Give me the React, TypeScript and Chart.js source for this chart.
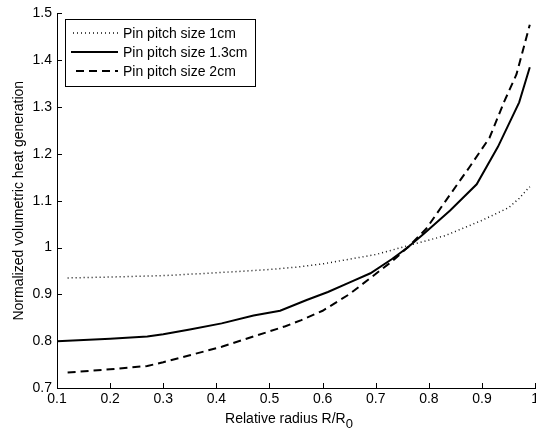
import React, { useEffect, useRef } from "react";
import { Chart, registerables } from "chart.js";

Chart.register(...registerables);

const xPitch1 = [0.12, 0.2, 0.3, 0.4, 0.5, 0.55, 0.6, 0.7, 0.78, 0.83, 0.9, 0.95, 0.97, 0.99];
const yPitch1 = [0.935, 0.937, 0.94, 0.946, 0.953, 0.958, 0.965, 0.985, 1.01, 1.025, 1.058, 1.085, 1.105, 1.13];

const xPitch13 = [0.1, 0.2, 0.27, 0.3, 0.35, 0.41, 0.47, 0.52, 0.57, 0.61, 0.65, 0.69, 0.73, 0.76, 0.79, 0.84, 0.89, 0.93, 0.97, 0.99];
const yPitch13 = [0.8, 0.805, 0.81, 0.815, 0.825, 0.838, 0.855, 0.865, 0.888, 0.905, 0.925, 0.945, 0.975, 1.0, 1.029, 1.079, 1.135, 1.215, 1.31, 1.385];

const xPitch2 = [0.12, 0.2, 0.27, 0.3, 0.35, 0.41, 0.47, 0.53, 0.56, 0.6, 0.65, 0.69, 0.73, 0.76, 0.795, 0.83, 0.876, 0.914, 0.942, 0.965, 0.99];
const yPitch2 = [0.733, 0.74, 0.747, 0.755, 0.77, 0.788, 0.81, 0.832, 0.845, 0.865, 0.9, 0.935, 0.97, 1.0, 1.04, 1.097, 1.171, 1.234, 1.312, 1.37, 1.476];

const seriesLabels = ["Pin pitch size 1cm", "Pin pitch size 1.3cm", "Pin pitch size 2cm"];
const yTitle = "Normalized volumetric heat generation";
const xTitleMain = "Relative radius R/R";
const xTitleSub = "0";

const FONT = "'Liberation Sans', Arial, sans-serif";

const toPoints = (xs: number[], ys: number[]) => xs.map((x, i) => ({ x, y: ys[i] }));
const fmt = (v: number) => String(Math.round(v * 10) / 10);

const styles = [
  { width: 1.5, dash: [1, 3], color: "#111" },
  { width: 2, dash: [] as number[], color: "#000" },
  { width: 2, dash: [8, 5], color: "#000" },
];

const decorPlugin = {
  id: "decor",
  afterDraw(chart: any) {
    const ctx = chart.ctx as CanvasRenderingContext2D;
    const xs = chart.scales.x;
    const ys = chart.scales.y;
    const area = chart.chartArea;
    ctx.save();
    ctx.strokeStyle = "#000";
    ctx.lineWidth = 1;
    ctx.setLineDash([]);
    ctx.beginPath();
    xs.ticks.forEach((t: any) => {
      const px = Math.round(xs.getPixelForValue(t.value)) + 0.5;
      ctx.moveTo(px, area.bottom);
      ctx.lineTo(px, area.bottom - 5);
    });
    ys.ticks.forEach((t: any) => {
      const py = Math.round(ys.getPixelForValue(t.value)) + 0.5;
      ctx.moveTo(area.left, py);
      ctx.lineTo(area.left + 5, py);
    });
    ctx.stroke();

    const bx = 65.5, by = 19.5, bw = 190, bh = 67;
    ctx.fillStyle = "#fff";
    ctx.fillRect(bx, by, bw, bh);
    ctx.strokeStyle = "#000";
    ctx.lineWidth = 1;
    ctx.strokeRect(bx, by, bw, bh);
    const rows = [33, 52, 71];
    const starts = [73, 71, 76];
    ctx.font = `14px ${FONT}`;
    ctx.textBaseline = "middle";
    ctx.textAlign = "left";
    seriesLabels.forEach((lab, i) => {
      const s = styles[i];
      ctx.beginPath();
      ctx.strokeStyle = s.color;
      ctx.lineWidth = s.width;
      ctx.setLineDash(s.dash);
      ctx.moveTo(starts[i], rows[i]);
      ctx.lineTo(118, rows[i]);
      ctx.stroke();
      ctx.setLineDash([]);
      ctx.fillStyle = "#000";
      ctx.fillText(lab, 123, rows[i] + 1);
    });

    ctx.font = `14px ${FONT}`;
    const w1 = ctx.measureText(xTitleMain).width;
    ctx.font = `13px ${FONT}`;
    const w2 = ctx.measureText(xTitleSub).width;
    const cx = 289;
    const start = cx - (w1 + w2) / 2;
    ctx.fillStyle = "#000";
    ctx.textBaseline = "alphabetic";
    ctx.font = `14px ${FONT}`;
    ctx.fillText(xTitleMain, start, 423);
    ctx.font = `13px ${FONT}`;
    ctx.fillText(xTitleSub, start + w1, 428);
    ctx.restore();
  },
};

export default function App() {
  const ref = useRef<HTMLCanvasElement | null>(null);
  useEffect(() => {
    if (!ref.current) return;
    const data = [toPoints(xPitch1, yPitch1), toPoints(xPitch13, yPitch13), toPoints(xPitch2, yPitch2)];
    const chart = new Chart(ref.current, {
      type: "line",
      data: {
        datasets: data.map((d, i) => ({
          label: seriesLabels[i],
          data: d,
          borderColor: styles[i].color,
          borderWidth: styles[i].width,
          borderDash: styles[i].dash,
          pointRadius: 0,
          fill: false,
          tension: 0,
        })),
      },
      options: {
        responsive: false,
        animation: false,
        layout: { padding: { top: 12, left: 0, right: 0, bottom: 0 } },
        plugins: { legend: { display: false }, tooltip: { enabled: false } },
        scales: {
          x: {
            type: "linear",
            min: 0.1,
            max: 1,
            afterFit: (s: any) => { s.height = 45; },
            ticks: {
              stepSize: 0.1,
              callback: (v: any) => fmt(Number(v)),
              font: { family: FONT, size: 14 },
              color: "#000",
              padding: 3,
              maxRotation: 0,
              autoSkip: false,
            },
            grid: { display: false, drawTicks: false },
            border: { display: true, color: "#000", width: 1 },
          },
          y: {
            type: "linear",
            min: 0.7,
            max: 1.5,
            afterFit: (s: any) => { s.width = 57; },
            ticks: {
              stepSize: 0.1,
              callback: (v: any) => fmt(Number(v)),
              font: { family: FONT, size: 14 },
              color: "#000",
              padding: 5,
              autoSkip: false,
            },
            title: {
              display: true,
              text: yTitle,
              font: { family: FONT, size: 14 },
              color: "#000",
              padding: { top: 11, bottom: 0 },
            },
            grid: { display: false, drawTicks: false },
            border: { display: true, color: "#000", width: 1 },
          },
        },
      },
      plugins: [decorPlugin],
    });
    return () => chart.destroy();
  }, []);
  return (
    <div style={{ position: "absolute", left: 0, top: 0, width: 536, height: 433, overflow: "hidden", background: "#fff" }}>
      <canvas ref={ref} width={542} height={433} style={{ display: "block" }} />
    </div>
  );
}
